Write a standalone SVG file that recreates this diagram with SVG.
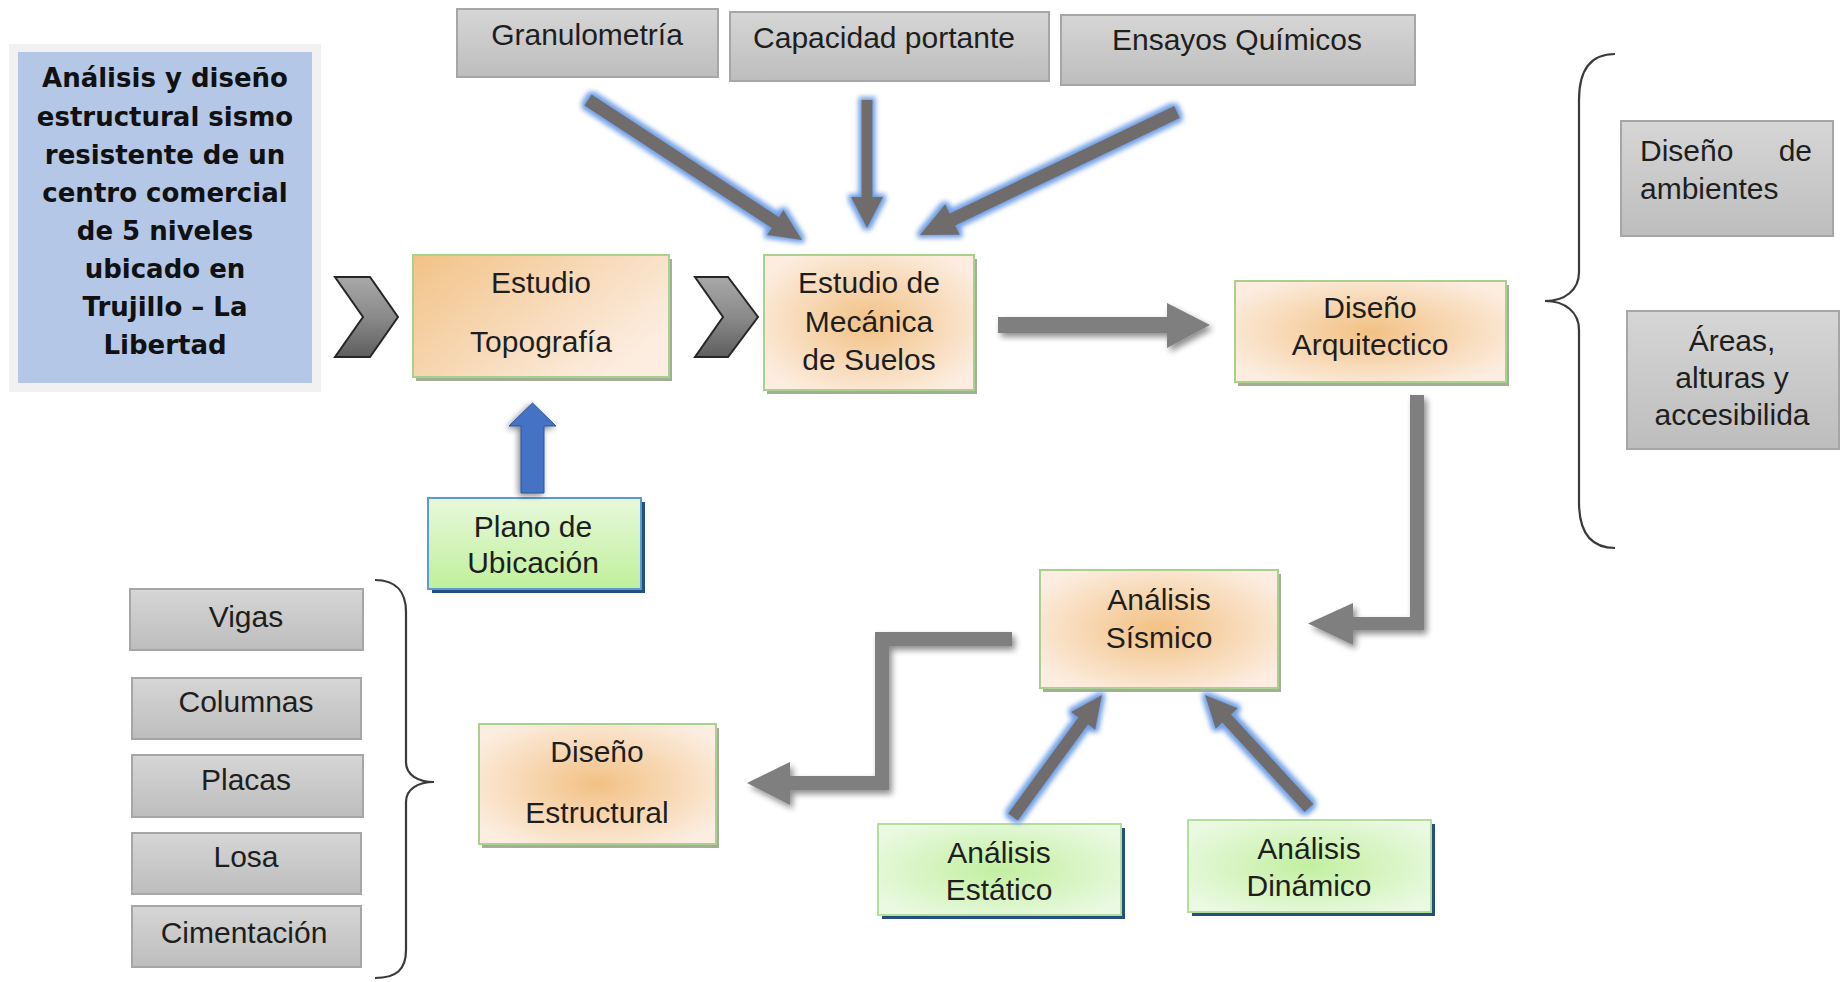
<svg xmlns="http://www.w3.org/2000/svg" width="1842" height="982" viewBox="0 0 1842 982">
<defs>
<style>
text{font-family:"Liberation Sans",Arial,sans-serif;font-size:30px;fill:#1e1e1e;text-anchor:middle}
.title{font-family:"DejaVu Sans",Verdana,sans-serif;font-weight:bold;font-size:26px;fill:#111}
.gray{fill:url(#gGray);stroke:#a6a6a6;stroke-width:2}
.org{stroke:#a9d18e;stroke-width:2}
.osh{fill:#a3ae96}
.grn{stroke:#b5dd9c;stroke-width:2}
.bsh{fill:#24507e}
.brace{fill:none;stroke:#3a3a3a;stroke-width:2.2}
.garrow{fill:#7f7f7f;filter:url(#shadow)}
.glow{fill:#706c6c;filter:url(#glow)}
.chev{fill:url(#gChev);stroke:#262626;stroke-width:2;stroke-linejoin:miter}
</style>
<linearGradient id="gGray" x1="0" y1="0" x2="0" y2="1"><stop offset="0" stop-color="#d6d6d6"/><stop offset="1" stop-color="#bdbdbd"/></linearGradient>
<linearGradient id="gChev" x1="0" y1="0" x2="0" y2="1"><stop offset="0" stop-color="#a8a8a8"/><stop offset="0.5" stop-color="#8a8a8a"/><stop offset="1" stop-color="#5e5e5e"/></linearGradient>
<linearGradient id="gTopo" x1="0" y1="0" x2="1" y2="0.6"><stop offset="0" stop-color="#f2c287"/><stop offset="1" stop-color="#fcede0"/></linearGradient>
<radialGradient id="gOrg" cx="0.5" cy="0.5" r="0.6"><stop offset="0" stop-color="#f2c184"/><stop offset="1" stop-color="#fcede0"/></radialGradient>
<radialGradient id="gGrn" cx="0.5" cy="0.5" r="0.6"><stop offset="0" stop-color="#c2efa0"/><stop offset="1" stop-color="#eaf9e1"/></radialGradient>
<linearGradient id="gPlano" x1="0" y1="0" x2="0" y2="1"><stop offset="0" stop-color="#e7f8dc"/><stop offset="1" stop-color="#c0f09b"/></linearGradient>
<filter id="shadow" x="-20%" y="-20%" width="140%" height="140%">
<feGaussianBlur in="SourceAlpha" stdDeviation="3"/>
<feOffset dx="3" dy="4" result="b"/>
<feComponentTransfer in="b" result="s"><feFuncA type="linear" slope="0.45"/></feComponentTransfer>
<feMerge><feMergeNode in="s"/><feMergeNode in="SourceGraphic"/></feMerge>
</filter>
<filter id="glow" x="-30%" y="-30%" width="160%" height="160%">
<feMorphology in="SourceAlpha" operator="dilate" radius="3" result="d"/>
<feGaussianBlur in="d" stdDeviation="2.5" result="bl"/>
<feFlood flood-color="#6f9fe6"/>
<feComposite in2="bl" operator="in" result="g"/>
<feMerge><feMergeNode in="g"/><feMergeNode in="SourceGraphic"/></feMerge>
</filter>
<filter id="bshadow" x="-30%" y="-30%" width="160%" height="160%">
<feGaussianBlur in="SourceAlpha" stdDeviation="3"/>
<feOffset dx="-2" dy="2" result="b"/>
<feComponentTransfer in="b" result="s"><feFuncA type="linear" slope="0.5"/></feComponentTransfer>
<feMerge><feMergeNode in="s"/><feMergeNode in="SourceGraphic"/></feMerge>
</filter>
</defs>
<rect width="1842" height="982" fill="#fff"/>

<g id="title">
<rect x="9" y="44" width="312" height="348" fill="#f1f1f1"/>
<rect x="18" y="52" width="294" height="331" fill="#b4c7e7"/>
<text class="title" x="165" y="87">Análisis y diseño</text>
<text class="title" x="165" y="126">estructural sismo</text>
<text class="title" x="165" y="164">resistente de un</text>
<text class="title" x="165" y="202">centro comercial</text>
<text class="title" x="165" y="240">de 5 niveles</text>
<text class="title" x="165" y="278">ubicado en</text>
<text class="title" x="165" y="316">Trujillo – La</text>
<text class="title" x="165" y="354">Libertad</text>
</g>

<g id="granulometria">
<rect class="gray" x="457" y="9" width="261" height="68"/>
<text x="587" y="45">Granulometría</text>
</g>
<g id="capacidad">
<rect class="gray" x="730" y="12" width="319" height="69"/>
<text x="884" y="48">Capacidad portante</text>
</g>
<g id="ensayos">
<rect class="gray" x="1061" y="15" width="354" height="70"/>
<text x="1237" y="50">Ensayos Químicos</text>
</g>

<g id="topografia">
<rect class="osh" x="416" y="259" width="256" height="122"/>
<rect class="org" x="413" y="255" width="256" height="122" fill="url(#gTopo)"/>
<text x="541" y="293">Estudio</text>
<text x="541" y="352">Topografía</text>
</g>

<g id="mecanica">
<rect class="osh" x="767" y="259" width="210" height="135"/>
<rect class="org" x="764" y="255" width="210" height="135" fill="url(#gOrg)"/>
<text x="869" y="293">Estudio de</text>
<text x="869" y="332">Mecánica</text>
<text x="869" y="370">de Suelos</text>
</g>

<g id="arquitectonico">
<rect class="osh" x="1238" y="285" width="271" height="101"/>
<rect class="org" x="1235" y="281" width="271" height="101" fill="url(#gOrg)"/>
<text x="1370" y="318">Diseño</text>
<text x="1370" y="355">Arquitectico</text>
</g>

<g id="ambientes">
<rect class="gray" x="1621" y="121" width="212" height="115"/>
<text x="1640" y="161" style="text-anchor:start">Diseño</text>
<text x="1812" y="161" style="text-anchor:end">de</text>
<text x="1640" y="199" style="text-anchor:start">ambientes</text>
</g>

<g id="areas">
<rect class="gray" x="1627" y="311" width="212" height="138"/>
<text x="1732" y="351">Áreas,</text>
<text x="1732" y="388">alturas y</text>
<text x="1732" y="425">accesibilida</text>
</g>

<g id="plano">
<rect class="bsh" x="432" y="502" width="213" height="91"/>
<rect x="428" y="498" width="213" height="91" fill="url(#gPlano)" stroke="#5b9bd5" stroke-width="2"/>
<text x="533" y="537">Plano  de</text>
<text x="533" y="573">Ubicación</text>
</g>

<g id="sismico">
<rect class="osh" x="1043" y="574" width="238" height="118"/>
<rect class="org" x="1040" y="570" width="238" height="118" fill="url(#gOrg)"/>
<text x="1159" y="610">Análisis</text>
<text x="1159" y="648">Sísmico</text>
</g>

<g id="estructural">
<rect class="osh" x="482" y="728" width="237" height="120"/>
<rect class="org" x="479" y="724" width="237" height="120" fill="url(#gOrg)"/>
<text x="597" y="762">Diseño</text>
<text x="597" y="823">Estructural</text>
</g>

<g id="estatico">
<rect class="bsh" x="882" y="828" width="243" height="91"/>
<rect class="grn" x="878" y="824" width="243" height="91" fill="url(#gGrn)"/>
<text x="999" y="863">Análisis</text>
<text x="999" y="900">Estático</text>
</g>

<g id="dinamico">
<rect class="bsh" x="1192" y="824" width="243" height="92"/>
<rect class="grn" x="1188" y="820" width="243" height="92" fill="url(#gGrn)"/>
<text x="1309" y="859">Análisis</text>
<text x="1309" y="896">Dinámico</text>
</g>

<g id="vigas"><rect class="gray" x="130" y="589" width="233" height="61"/><text x="246" y="627">Vigas</text></g>
<g id="columnas"><rect class="gray" x="132" y="678" width="229" height="61"/><text x="246" y="712">Columnas</text></g>
<g id="placas"><rect class="gray" x="132" y="755" width="231" height="62"/><text x="246" y="790">Placas</text></g>
<g id="losa"><rect class="gray" x="132" y="833" width="229" height="61"/><text x="246" y="867">Losa</text></g>
<g id="cimentacion"><rect class="gray" x="132" y="906" width="229" height="61"/><text x="244" y="943">Cimentación</text></g>

<g id="connectors">
<path class="chev" d="M335,277 L370,277 L398,317 L370,357 L335,357 L363,317 Z"/>
<path class="chev" d="M695,277 L728,277 L758,317 L728,357 L695,357 L723,317 Z"/>
<polygon class="glow" points="584.4,105.4 771.7,227.9 767,235 802,240 783.4,209.9 778.8,217.1 591.6,94.6"/>
<polygon class="glow" points="861.5,100 861.5,197 851,197 867,228 883,197 872.5,197 872.5,100"/>
<polygon class="glow" points="1174.2,106.1 949.7,213.6 945.2,204.2 920,235 959.8,234.8 955.3,225.4 1179.8,117.9"/>
<polygon class="garrow" points="998,317 1167,317 1167,303 1210,325 1167,348 1167,333 998,333"/>
<polygon class="garrow" points="1410,395 1424,395 1424,630 1353,630 1353,645 1308,623.5 1353,603 1353,617 1410,617"/>
<polygon class="garrow" points="1012,632 1012,646 889,646 889,790 790,790 790,805 747,783 790,762 790,776 875,776 875,632"/>
<polygon fill="#4472c4" stroke="#2f5597" stroke-width="1" filter="url(#bshadow)" points="521,493 521,426 509,426 532.5,403 556,426 544,426 544,493"/>
<polygon class="glow" points="1017.8,820.5 1088,724.4 1095.2,729.7 1102,695 1071,712.1 1078.3,717.4 1008.2,813.5"/>
<polygon class="glow" points="1313.4,803.9 1231.1,714.4 1237.7,708.3 1205,695 1215.7,728.7 1222.3,722.6 1304.6,812.1"/>
<path class="brace" d="M1615,54 C1590,54 1579,70 1579,100 L1579,272 C1579,290 1565,301 1545,301 C1565,301 1579,312 1579,330 L1579,502 C1579,532 1590,548 1615,548"/>
<path class="brace" d="M375,580 C396,580 406,592 406,612 L406,762 C406,775 418,782 434,782 C418,782 406,789 406,802 L406,950 C406,970 396,978 375,978"/>
</g>
</svg>
